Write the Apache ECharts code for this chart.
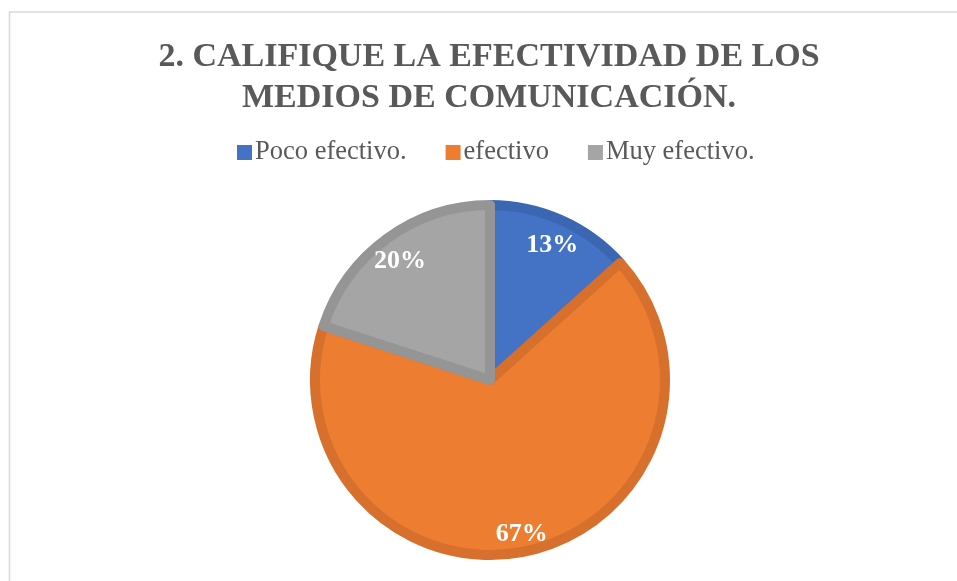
<!DOCTYPE html>
<html>
<head>
<meta charset="utf-8">
<script src="https://cdn.jsdelivr.net/npm/echarts@6/dist/echarts.min.js"></script>
<style>
html,body{margin:0;padding:0;background:#fff;}
#chart{width:957px;height:581px;}
</style>
</head>
<body>
<div id="chart"></div>
<script>
const titleText = '2. CALIFIQUE LA EFECTIVIDAD DE LOS\nMEDIOS DE COMUNICACIÓN.';
const categories = ['Poco efectivo.', 'efectivo', 'Muy efectivo.'];
const values = [2, 10, 3];
const fillColors = ['#4472C4', '#ED7D31', '#A5A5A5'];
const borderColors = ['#3B67B2', '#D6702C', '#959595'];

const FONT = '"Liberation Serif", "Times New Roman", serif';

const mainData = categories.map((c, i) => ({
  name: c, value: values[i],
  itemStyle: { color: fillColors[i], borderColor: borderColors[i] }
}));
const labelData = categories.map((c, i) => ({ name: c, value: values[i] }));

const chart = echarts.init(document.getElementById('chart'), null, { renderer: 'canvas' });
chart.setOption({
  backgroundColor: '#ffffff',
  animation: false,
  color: fillColors,
  graphic: [{
    type: 'rect', silent: true, z: -10,
    shape: { x: 9.5, y: 12, width: 1200, height: 900 },
    style: { fill: 'none', stroke: '#d9d9d9', lineWidth: 1.5 }
  }],
  title: {
    text: titleText,
    left: 484, top: 32,
    textAlign: 'center',
    textStyle: {
      fontFamily: FONT, fontWeight: 'bold', fontSize: 34,
      color: '#595959', lineHeight: 41
    }
  },
  legend: {
    data: categories,
    left: 232, top: 134, width: 720,
    align: 'left',
    icon: 'rect', itemWidth: 15, itemHeight: 15, itemGap: 39,
    itemStyle: { borderWidth: 0 },
    textStyle: { fontFamily: FONT, fontSize: 26.5, color: '#595959', padding: [0, 0, 0, -2] }
  },
  series: [{
    type: 'pie',
    center: [490, 380],
    radius: [0, 175],
    startAngle: 90,
    clockwise: true,
    data: mainData,
    itemStyle: { borderWidth: 10 },
    label: { show: false },
    labelLine: { show: false },
    emphasis: { disabled: true }
  }, {
    type: 'pie',
    center: [490, 380],
    radius: [120, 180],
    startAngle: 90,
    clockwise: true,
    data: labelData,
    silent: true,
    itemStyle: { color: 'rgba(0,0,0,0)', borderWidth: 0 },
    label: {
      show: true, position: 'inside', offset: [0, 5],
      formatter: p => Math.round(p.percent) + '%',
      fontFamily: FONT, fontWeight: 'bold', fontSize: 26, color: '#ffffff'
    },
    labelLine: { show: false },
    emphasis: { disabled: true }
  }]
});
</script>
</body>
</html>
